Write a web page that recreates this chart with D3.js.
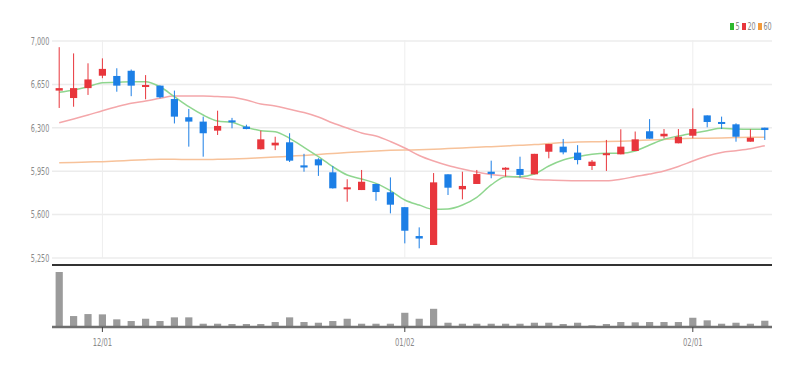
<!DOCTYPE html>
<html>
<head>
<meta charset="utf-8">
<script src="https://cdn.jsdelivr.net/npm/d3@7"></script>
<style>
  body { margin: 0; background: #fff; }
  text { font-family: "Liberation Sans Narrow", "DejaVu Sans Condensed", sans-serif; fill: #888; }
</style>
</head>
<body>
<div class="candleChart"></div>
<script>
let w = 805;
let h = 368;

// trading days, 2022-11-28 .. 2023-02-08
const dates = ["11/28","11/29","11/30","12/01","12/02","12/05","12/06","12/07","12/08","12/09",
  "12/12","12/13","12/14","12/15","12/16","12/19","12/20","12/21","12/22","12/23",
  "12/26","12/27","12/28","12/29","01/02","01/03","01/04","01/05","01/06","01/09",
  "01/10","01/11","01/12","01/13","01/16","01/17","01/18","01/19","01/20","01/25",
  "01/26","01/27","01/30","01/31","02/01","02/02","02/03","02/06","02/07","02/08"];

const opens  = [6600,6540,6620,6720,6718,6760,6632,6640,6532,6385,6350,6277,6360,6310,6127,6158,6183,5997,6046,5941,
  5805,5798,5847,5780,5660,5427,5355,5925,5804,5847,5946,5965,5968,5925,6107,6148,6100,5992,6082,6086,
  6113,6272,6231,6175,6236,6400,6347,6328,6188,6301];
const highs  = [6950,6900,6820,6860,6780,6770,6725,6642,6600,6452,6390,6438,6380,6325,6277,6228,6256,6090,6055,5992,
  5885,5960,5848,5900,5660,5497,5935,5925,5946,5960,6035,5982,6067,6090,6170,6210,6160,6040,6202,6288,
  6270,6370,6290,6290,6457,6400,6390,6336,6288,6301];
const lows   = [6460,6470,6565,6700,6591,6555,6530,6538,6335,6148,6067,6242,6296,6288,6125,6120,6024,5946,5912,5810,
  5704,5798,5712,5610,5368,5328,5355,5758,5723,5847,5893,5906,5898,5925,6054,6086,6005,5960,5952,6086,
  6113,6212,6215,6175,6215,6304,6290,6188,6188,6202];
const closes = [6620,6620,6690,6775,6640,6640,6645,6546,6390,6350,6256,6315,6350,6290,6207,6180,6035,5980,5997,5812,
  5820,5865,5782,5680,5470,5407,5860,5817,5831,5927,5928,5978,5920,6090,6169,6102,6040,6027,6095,6148,
  6207,6212,6252,6228,6290,6347,6331,6228,6220,6282];
const volumes = [1106,220,260,254,154,120,166,120,194,194,66,66,60,60,60,100,194,100,86,120,
  166,66,66,66,286,166,366,86,66,66,66,66,66,86,86,60,86,34,60,100,
  94,100,100,100,186,134,66,86,66,126];

const ma5  = [6586,6605,6631,6664,6667,6672,6672,6631,6551,6470,6403,6355,6344,6304,6277,6269,6215,6143,6067,5986,
  5919,5887,5852,5793,5718,5677,5643,5645,5677,5739,5839,5906,5906,5927,5992,6040,6067,6086,6094,6094,
  6113,6161,6207,6234,6256,6277,6296,6290,6288,6288];
const ma20 = [6341,6371,6403,6438,6470,6498,6516,6538,6556,6556,6556,6552,6546,6524,6492,6476,6449,6423,6387,6339,
  6298,6258,6234,6190,6137,6077,6032,5996,5968,5944,5923,5911,5899,5883,5879,5875,5873,5873,5873,5885,
  5907,5927,5952,5988,6032,6073,6101,6115,6131,6156];
const ma60 = [6018,6020,6024,6027,6032,6038,6043,6046,6046,6044,6044,6046,6048,6052,6058,6064,6071,6077,6085,6093,
  6101,6107,6113,6118,6121,6123,6127,6133,6137,6143,6148,6153,6160,6165,6173,6181,6185,6188,6189,6192,
  6196,6202,6206,6212,6215,6216,6218,6221,6223,6223];

const priceTicks = [5250,5600,5950,6300,6650,7000];
const dateTicks = ["12/01","01/02","02/01"];
const maKeys = ["5","20","60"];

const upColor = "#e8363c";
const downColor = "#1c7fe6";

const svg = d3.select(".candleChart")
              .append("svg")
              .attr("width", w)
              .attr("height", h)

const xScale = d3.scaleBand()
                 .domain(dates)
                 .range([52, 772])
                 .paddingInner(0.5)
                 .paddingOuter(0.25)

const cx = (d) => xScale(d) + xScale.bandwidth() / 2;

const yScale = d3.scaleLinear()
                 .domain([5250, 7000])
                 .range([258, 41])

const volScale = d3.scaleLinear()
                   .domain([0, d3.max(volumes)])
                   .range([327, 272])

// grid
svg.selectAll(".hgrid")
   .data(priceTicks)
   .enter()
   .append("line")
   .attr("x1", 52)
   .attr("x2", 772)
   .attr("y1", (d) => yScale(d))
   .attr("y2", (d) => yScale(d))
   .style("stroke", "#ececec")
   .style("stroke-width", 1.5)

svg.selectAll(".vgrid")
   .data(dateTicks)
   .enter()
   .append("line")
   .attr("x1", (d) => cx(d))
   .attr("x2", (d) => cx(d))
   .attr("y1", 40)
   .attr("y2", 258)
   .style("stroke", "#eeeeee")
   .style("stroke-width", 1)

// price axis labels (narrow look)
const yAxis = d3.axisLeft(yScale)
                .tickValues(priceTicks)
                .tickFormat(d3.format(","))
                .tickSize(0)
                .tickPadding(1)

svg.append("g")
   .attr("transform", "translate(50,0)")
   .attr("color", "#8a8a8a")
   .call(yAxis)
   .call((g) => g.select(".domain").remove())
   .call((g) => g.selectAll("text")
                 .attr("transform", "scale(0.72,1)")
                 .attr("fill", "#8a8a8a")
                 .style("font-family", "'Liberation Sans Narrow', 'DejaVu Sans Condensed', sans-serif")
                 .style("font-size", "10px")
                 .style("fill", "#8a8a8a"))

// moving averages
let maLines = [
  { key: "60", values: ma60, color: "#f7c29a" },
  { key: "20", values: ma20, color: "#f4a7aa" },
  { key: "5", values: ma5, color: "#8fd68f" }
];

let line = d3.line()
             .x((d, i) => cx(dates[i]))
             .y((d) => yScale(d))
             .curve(d3.curveMonotoneX)

svg.selectAll(".ma")
   .data(maLines)
   .enter()
   .append("path")
   .attr("d", (d) => line(d.values))
   .style("fill", "none")
   .style("stroke", (d) => d.color)
   .style("stroke-width", 1.5)

// candles
let candles = dates.map((d, i) => ({ date: d, o: opens[i], h: highs[i], l: lows[i], c: closes[i], v: volumes[i] }));
let colorOf = (d) => d.c >= d.o ? upColor : downColor;

svg.selectAll(".wick")
   .data(candles)
   .enter()
   .append("line")
   .attr("x1", (d) => cx(d.date))
   .attr("x2", (d) => cx(d.date))
   .attr("y1", (d) => yScale(d.h))
   .attr("y2", (d) => yScale(d.l))
   .style("stroke", colorOf)
   .style("stroke-width", 1)

svg.selectAll(".body")
   .data(candles)
   .enter()
   .append("rect")
   .attr("x", (d) => xScale(d.date))
   .attr("width", xScale.bandwidth())
   .attr("y", (d) => yScale(Math.max(d.o, d.c)))
   .attr("height", (d) => Math.max(2, Math.abs(yScale(d.o) - yScale(d.c))))
   .style("fill", colorOf)

// separator
svg.append("line")
   .attr("x1", 52)
   .attr("x2", 772)
   .attr("y1", 265)
   .attr("y2", 265)
   .style("stroke", "#333")
   .style("stroke-width", 2)

// volume bars
svg.selectAll(".vol")
   .data(candles)
   .enter()
   .append("rect")
   .attr("x", (d) => xScale(d.date))
   .attr("width", xScale.bandwidth())
   .attr("y", (d) => volScale(d.v))
   .attr("height", (d) => volScale(0) - volScale(d.v))
   .style("fill", "#9b9b9b")

svg.append("line")
   .attr("x1", 52)
   .attr("x2", 772)
   .attr("y1", 327)
   .attr("y2", 327)
   .style("stroke", "#6f6f6f")
   .style("stroke-width", 2.5)

// date axis
svg.selectAll(".xtick")
   .data(dateTicks)
   .enter()
   .append("line")
   .attr("x1", (d) => cx(d))
   .attr("x2", (d) => cx(d))
   .attr("y1", 327)
   .attr("y2", 332)
   .style("stroke", "#444")
   .style("stroke-width", 1)

svg.selectAll(".xlabel")
   .data(dateTicks)
   .enter()
   .append("text")
   .attr("transform", (d) => "translate(" + cx(d) + ",346) scale(0.72,1)")
   .attr("text-anchor", "middle")
   .style("font-size", "10.5px")
   .style("fill", "#8a8a8a")
   .text((d) => d)

// legend
let legendColors = d3.scaleOrdinal()
                     .domain(maKeys)
                     .range(["#2eb82e", "#e8363c", "#f39a3a"])
let legendX = [730, 742, 758];

svg.selectAll(".legendbox")
   .data(maKeys)
   .enter()
   .append("rect")
   .attr("x", (d, i) => legendX[i])
   .attr("y", 23)
   .attr("width", 4)
   .attr("height", 7)
   .style("fill", (d) => legendColors(d))

svg.selectAll(".legendlabel")
   .data(maKeys)
   .enter()
   .append("text")
   .attr("transform", (d, i) => "translate(" + (legendX[i] + 5.5) + ",30) scale(0.72,1)")
   .style("font-size", "10px")
   .style("fill", "#888")
   .text((d) => d)
</script>
</body>
</html>
